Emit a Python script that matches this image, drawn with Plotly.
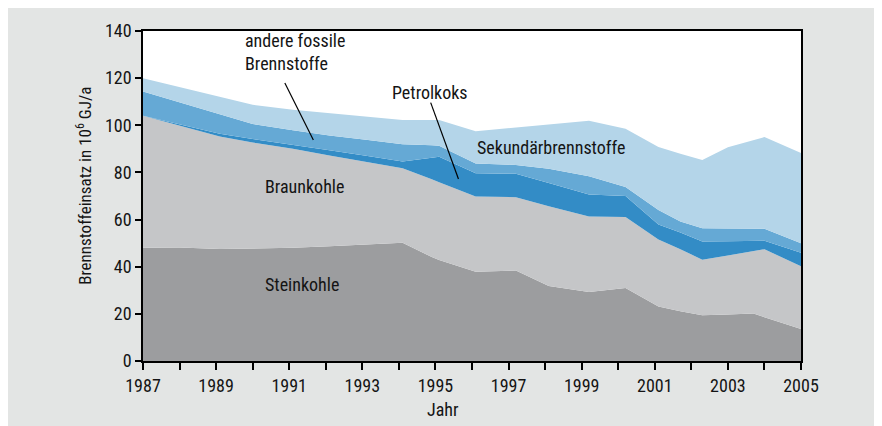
import plotly.graph_objects as go

# Vertex positions (years)
years = [1987.0, 1988.0, 1989.1, 1990.0, 1991.1, 1992.1, 1993.1, 1994.1, 1994.9, 1995.1,
         1996.1, 1997.2, 1998.1, 1999.2, 2000.2, 2001.1, 2001.7, 2002.3, 2003.0, 2003.7,
         2004.0, 2005.0]

# Fuel input per category in 10^6 GJ/a (stacked)
steinkohle = [48.0, 48.1, 47.5, 47.6, 48.0, 48.7, 49.4, 50.2, 44.1, 42.9,
              37.9, 38.4, 31.8, 29.3, 31.0, 23.1, 21.1, 19.4, 19.7, 20.1, 18.6, 13.6]
braunkohle = [56.0, 51.7, 47.7, 45.1, 42.0, 38.5, 35.2, 31.6, 33.0, 32.9,
              31.9, 31.1, 33.9, 32.0, 30.1, 28.4, 26.3, 23.6, 25.1, 26.5, 28.8, 26.6]
petrolkoks = [0.0, 0.5, 1.2, 1.5, 1.8, 2.2, 2.5, 2.8, 9.1, 10.8,
              9.9, 9.9, 9.8, 9.3, 8.9, 6.4, 7.1, 7.7, 6.0, 4.3, 3.6, 5.7]
andere_fossile = [10.3, 9.4, 8.3, 6.3, 6.1, 6.3, 6.8, 7.4, 5.3, 4.7,
                  4.1, 3.8, 6.1, 7.8, 3.8, 6.2, 4.7, 5.6, 5.4, 5.2, 5.1, 4.1]
sekundaer = [5.7, 6.5, 7.5, 8.2, 8.7, 9.4, 9.7, 10.2, 10.7, 10.9,
             13.7, 15.9, 18.6, 23.5, 24.7, 26.7, 28.7, 29.0, 34.5, 37.6, 38.9, 38.2]

series_names = ["Steinkohle", "Braunkohle", "Petrolkoks", "andere fossile Brennstoffe", "Sekundärbrennstoffe"]
series_values = [steinkohle, braunkohle, petrolkoks, andere_fossile, sekundaer]
series_colors = ["#9c9d9f", "#c5c6c8", "#338cc6", "#65a9d5", "#b4d5e9"]

FONT = "Roboto Condensed, Liberation Sans Narrow, Arial Narrow, DejaVu Sans Condensed, sans-serif"
TXT = "#141414"

fig = go.Figure()
for name, vals, col in zip(series_names, series_values, series_colors):
    fig.add_trace(go.Scatter(
        x=years, y=vals, name=name, stackgroup="one", mode="lines",
        line=dict(width=0, color=col), fillcolor=col, hoverinfo="skip"))

# in-chart labels
labels = [
    dict(x=1998.16, y=90.7, text="Sekundärbrennstoffe", xanchor="center"),
    dict(x=1991.43, y=74.0, text="Braunkohle", xanchor="center"),
    dict(x=1991.35, y=32.4, text="Steinkohle", xanchor="center"),
    dict(x=1994.85, y=113.7, text="Petrolkoks", xanchor="center"),
    dict(x=1989.74, y=130.9, text="andere fossile<br>Brennstoffe", xanchor="left", align="left"),
]
for lab in labels:
    fig.add_annotation(showarrow=False, yanchor="middle",
                       font=dict(family=FONT, size=18, color=TXT), **lab)

# leader lines
fig.add_shape(type="line", x0=1990.88, y0=117.9, x1=1991.66, y1=93.8,
              line=dict(color="black", width=1.2))
fig.add_shape(type="line", x0=1994.87, y0=109.6, x1=1995.63, y1=77.2,
              line=dict(color="black", width=1.2))

# axis titles
fig.add_annotation(xref="paper", yref="paper", x=-0.0897, y=0.531, showarrow=False,
                   text="Brennstoffeinsatz in 10<sup>6</sup> GJ/a", textangle=-90,
                   xanchor="center", yanchor="middle",
                   font=dict(family=FONT, size=17, color=TXT))
fig.add_annotation(xref="paper", yref="paper", x=0.456, y=-0.147, showarrow=False,
                   text="Jahr", xanchor="center", yanchor="middle",
                   font=dict(family=FONT, size=18, color=TXT))

fig.update_layout(
    width=882, height=426,
    margin=dict(l=135, r=89, t=23, b=72.5),
    paper_bgcolor="#e3e5e4", plot_bgcolor="white",
    showlegend=False, hovermode=False,
    font=dict(family=FONT, size=18, color=TXT),
)
fig.update_xaxes(range=[1987, 2005], tick0=1987, dtick=2,
                 ticks="outside", ticklen=7, tickwidth=1.5, tickcolor="black",
                 minor=dict(dtick=1, tick0=1987, ticks="outside", ticklen=7,
                            tickwidth=1.5, tickcolor="black", showgrid=False),
                 showgrid=False, zeroline=False, showline=True, linecolor="black",
                 linewidth=2, mirror=True, tickfont=dict(family=FONT, size=18, color=TXT))
fig.update_yaxes(range=[0, 140], dtick=20, tick0=0,
                 ticks="outside", ticklen=6, tickwidth=1.5, tickcolor="black",
                 showgrid=False, zeroline=False, showline=True, linecolor="black",
                 linewidth=1.5, mirror=True, tickfont=dict(family=FONT, size=18, color=TXT))

fig.write_html("out.html")
